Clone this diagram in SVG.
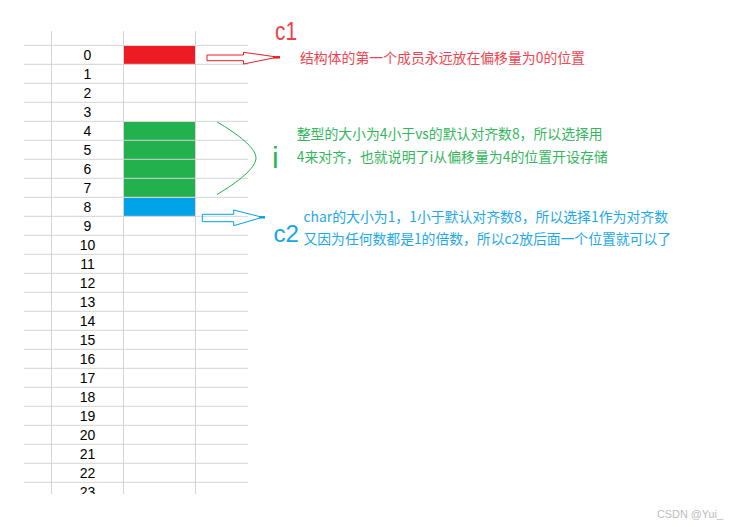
<svg xmlns="http://www.w3.org/2000/svg" width="737" height="527" viewBox="0 0 737 527">
<defs>
<style>
.g{stroke:#d4d4d4;stroke-width:1;fill:none}
.n{font-family:"Liberation Sans",Arial,sans-serif;font-size:14px;fill:#000;text-anchor:middle}
.cj{font-family:"Noto Sans CJK SC","Liberation Sans",sans-serif;font-size:14px}
.big{font-family:"Liberation Sans",Arial,sans-serif}
</style>
<clipPath id="clip"><rect x="0" y="0" width="737" height="494"/></clipPath>
</defs>
<rect width="737" height="527" fill="#fff"/>
<g id="cells">
<rect x="124" y="46" width="71" height="18.3" fill="#ED1C24"/>
<rect x="124" y="122" width="71" height="75.3" fill="#22B14C"/>
<rect x="124" y="198" width="71" height="18.3" fill="#00A2E8"/>
</g>
<g id="grid" clip-path="url(#clip)">
<path class="g" d="M51.5,31V494M123.5,31V494M195.5,31V494"/>
<path class="g" d="M24,45.3H248M24,64.3H248M24,83.3H248M24,102.3H248M24,121.3H248M24,140.3H248M24,159.3H248M24,178.3H248M24,197.3H248M24,216.3H248M24,235.3H248M24,254.3H248M24,273.3H248M24,292.3H248M24,311.3H248M24,330.3H248M24,349.3H248M24,368.3H248M24,387.3H248M24,406.3H248M24,425.3H248M24,444.3H248M24,463.3H248M24,482.3H248"/>
<g class="n">
<text x="87.5" y="60">0</text><text x="87.5" y="79">1</text><text x="87.5" y="98">2</text><text x="87.5" y="117">3</text>
<text x="87.5" y="136">4</text><text x="87.5" y="155">5</text><text x="87.5" y="174">6</text><text x="87.5" y="193">7</text>
<text x="87.5" y="212">8</text><text x="87.5" y="231">9</text><text x="87.5" y="250">10</text><text x="87.5" y="269">11</text>
<text x="87.5" y="288">12</text><text x="87.5" y="307">13</text><text x="87.5" y="326">14</text><text x="87.5" y="345">15</text>
<text x="87.5" y="364">16</text><text x="87.5" y="383">17</text><text x="87.5" y="402">18</text><text x="87.5" y="421">19</text>
<text x="87.5" y="440">20</text><text x="87.5" y="459">21</text><text x="87.5" y="478">22</text><text x="87.5" y="497">23</text>
</g>
</g>
<g id="connectors" fill="none">
<path d="M207,55H243.5V52.3L273.5,56.5V58L243.5,64V60.7H207Z" stroke="#ED1C24" stroke-width="1"/>
<path d="M273,57.3H280" stroke="#ED1C24" stroke-width="2.5"/>
<path d="M217,122C238,134 256,148 256,158C256,168 238,182 217,194.5" stroke="#22B14C" stroke-width="1"/>
<path d="M202.3,214.3H233.7V210L260,216.7V218L233.7,225.7V221.7H202.3Z" stroke="#00A2E8" stroke-width="1"/>
<path d="M259,217.3H265" stroke="#00A2E8" stroke-width="2.5"/>
</g>
<g id="c1">
<text class="big" x="275" y="40" font-size="25" fill="#EE3F48" textLength="22" lengthAdjust="spacingAndGlyphs">c1</text>
<text class="cj" x="300" y="63.3" fill="#EE4550" textLength="285" lengthAdjust="spacingAndGlyphs">结构体的第一个成员永远放在偏移量为0的位置</text>
</g>
<g id="i">
<text class="big" x="272" y="167.7" font-size="30" fill="#2FB35A">i</text>
<text class="cj" x="296.7" y="138.5" fill="#35B65E" textLength="306" lengthAdjust="spacingAndGlyphs">整型的大小为4小于vs的默认对齐数8，所以选择用</text>
<text class="cj" x="296.7" y="162" fill="#35B65E" textLength="311" lengthAdjust="spacingAndGlyphs">4来对齐，也就说明了i从偏移量为4的位置开设存储</text>
</g>
<g id="c2">
<text class="big" x="273.5" y="241.7" font-size="24" fill="#14A6E8" textLength="25.5" lengthAdjust="spacingAndGlyphs">c2</text>
<text class="cj" x="303.5" y="222" fill="#1EA8E8" textLength="364.5" lengthAdjust="spacingAndGlyphs">char的大小为1，1小于默认对齐数8，所以选择1作为对齐数</text>
<text class="cj" x="303.5" y="243.6" fill="#1EA8E8" textLength="367.5" lengthAdjust="spacingAndGlyphs">又因为任何数都是1的倍数，所以c2放后面一个位置就可以了</text>
</g>
<text x="657" y="518" font-family="Liberation Sans,Arial,sans-serif" font-size="11" fill="#bbb" textLength="66" lengthAdjust="spacingAndGlyphs">CSDN @Yui_</text>
</svg>
